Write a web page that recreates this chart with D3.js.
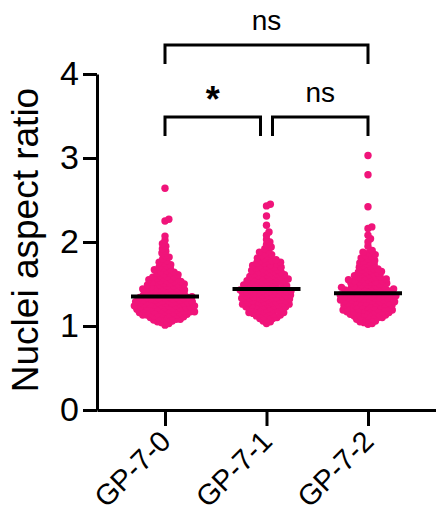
<!DOCTYPE html>
<html>
<head>
<meta charset="utf-8">
<script src="https://cdn.jsdelivr.net/npm/d3@7"></script>
<style>
  html, body { margin: 0; padding: 0; background: #fff; }
  svg { display: block; font-family: "Liberation Sans", Arial, sans-serif; }
</style>
</head>
<body>
<svg id="chart" width="436" height="529"></svg>
<script>
// Groups on the x axis
const categories = ["GP-7-0", "GP-7-1", "GP-7-2"];

// Nuclei aspect ratio measurements per group
const valuesGP70 = [
  1.01, 1.03, 1.04,
  1.05, 1.06, 1.06, 1.07, 1.08, 1.08, 1.09, 1.09,
  1.10, 1.10, 1.11, 1.11, 1.12, 1.12, 1.13, 1.13, 1.13, 1.14, 1.14, 1.14,
  1.15, 1.15, 1.16, 1.16, 1.16, 1.17, 1.17, 1.17, 1.18, 1.18, 1.18, 1.19, 1.19, 1.19,
  1.20, 1.20, 1.21, 1.21, 1.21, 1.22, 1.22, 1.22, 1.23, 1.23, 1.23, 1.24, 1.24, 1.24, 1.24,
  1.25, 1.25, 1.26, 1.26, 1.26, 1.27, 1.27, 1.27, 1.28, 1.28, 1.28, 1.29, 1.29, 1.29, 1.29,
  1.30, 1.30, 1.31, 1.31, 1.31, 1.32, 1.32, 1.33, 1.33, 1.33, 1.34, 1.34, 1.34, 1.34,
  1.35, 1.35, 1.36, 1.36, 1.36, 1.37, 1.37, 1.37, 1.38, 1.38, 1.39, 1.39, 1.39, 1.40,
  1.41, 1.41, 1.42, 1.42, 1.42, 1.43, 1.43, 1.44, 1.44, 1.44, 1.45, 1.45,
  1.46, 1.46, 1.47, 1.47, 1.48, 1.48, 1.49, 1.49, 1.50, 1.50,
  1.51, 1.51, 1.52, 1.52, 1.53, 1.53, 1.54, 1.54, 1.55,
  1.56, 1.56, 1.57, 1.57, 1.58, 1.59, 1.59, 1.60,
  1.61, 1.62, 1.63, 1.63, 1.64, 1.65,
  1.66, 1.67, 1.68, 1.69, 1.70,
  1.72, 1.73, 1.75, 1.76,
  1.78, 1.80, 1.82,
  1.84, 1.87, 1.89,
  1.92, 1.95, 1.98, 2.02, 2.07,
  2.25, 2.27, 2.64
];

const valuesGP71 = [
  1.03, 1.05, 1.06, 1.08, 1.09, 1.09,
  1.10, 1.11, 1.12, 1.12, 1.13, 1.14, 1.14,
  1.15, 1.15, 1.16, 1.16, 1.17, 1.18, 1.18, 1.19, 1.19,
  1.20, 1.20, 1.21, 1.21, 1.22, 1.22, 1.23, 1.23, 1.24, 1.24, 1.24,
  1.25, 1.25, 1.26, 1.26, 1.26, 1.27, 1.27, 1.28, 1.28, 1.29, 1.29, 1.29,
  1.30, 1.30, 1.31, 1.31, 1.31, 1.32, 1.32, 1.33, 1.33, 1.33, 1.34, 1.34, 1.34,
  1.35, 1.35, 1.36, 1.36, 1.36, 1.37, 1.37, 1.38, 1.38, 1.38, 1.39, 1.39, 1.39,
  1.40, 1.40, 1.41, 1.41, 1.41, 1.42, 1.42, 1.42, 1.43, 1.43, 1.43, 1.44, 1.44,
  1.45, 1.45, 1.46, 1.46, 1.47, 1.47, 1.48, 1.48, 1.48, 1.49, 1.49, 1.50,
  1.51, 1.51, 1.52, 1.52, 1.53, 1.53, 1.53, 1.54, 1.54, 1.55, 1.55,
  1.56, 1.56, 1.57, 1.57, 1.58, 1.58, 1.59, 1.59, 1.60, 1.60,
  1.61, 1.61, 1.62, 1.62, 1.63, 1.63, 1.64, 1.65, 1.65,
  1.66, 1.66, 1.67, 1.68, 1.68, 1.69, 1.70, 1.70,
  1.71, 1.72, 1.72, 1.73, 1.74, 1.75, 1.75,
  1.76, 1.77, 1.78, 1.78, 1.79, 1.80,
  1.81, 1.83, 1.84, 1.85,
  1.87, 1.88, 1.90,
  1.92, 1.94,
  1.97, 2.00, 2.03,
  2.08, 2.12,
  2.20, 2.31, 2.43, 2.45
];

const valuesGP72 = [
  1.02, 1.03, 1.04, 1.05, 1.06, 1.07, 1.08, 1.09, 1.09,
  1.10, 1.10, 1.11, 1.12, 1.12, 1.13, 1.13, 1.14, 1.14,
  1.15, 1.15, 1.16, 1.16, 1.17, 1.17, 1.17, 1.18, 1.18, 1.19, 1.19, 1.19,
  1.20, 1.20, 1.21, 1.21, 1.21, 1.22, 1.22, 1.23, 1.23, 1.24, 1.24, 1.24,
  1.25, 1.25, 1.26, 1.26, 1.26, 1.27, 1.27, 1.28, 1.28, 1.28, 1.29, 1.29, 1.29,
  1.30, 1.30, 1.31, 1.31, 1.31, 1.32, 1.32, 1.33, 1.33, 1.33, 1.34, 1.34, 1.34,
  1.35, 1.35, 1.35, 1.36, 1.36, 1.36, 1.37, 1.37, 1.37, 1.38, 1.38, 1.38, 1.39, 1.39,
  1.40, 1.40, 1.41, 1.41, 1.41, 1.42, 1.42, 1.43, 1.43, 1.43, 1.44, 1.44, 1.44,
  1.45, 1.45, 1.46, 1.46, 1.47, 1.47, 1.48, 1.48, 1.49, 1.49, 1.50,
  1.51, 1.51, 1.52, 1.52, 1.53, 1.53, 1.54, 1.54, 1.55, 1.55,
  1.56, 1.56, 1.57, 1.58, 1.58, 1.59, 1.59, 1.60,
  1.61, 1.62, 1.62, 1.63, 1.64, 1.64, 1.65,
  1.66, 1.67, 1.68, 1.68, 1.69, 1.70,
  1.71, 1.72, 1.73, 1.74, 1.75,
  1.76, 1.77, 1.78, 1.80,
  1.81, 1.83, 1.84, 1.85,
  1.87, 1.88, 1.90,
  1.95, 2.00, 2.04, 2.08, 2.16, 2.18,
  2.42, 2.80, 3.03
];

const groupValues = [valuesGP70, valuesGP71, valuesGP72];

// Y axis ticks and title
const yTicks = [0, 1, 2, 3, 4];
const yTitle = "Nuclei aspect ratio";

// Pairwise comparisons: [from group, to group, label, bracket level]
const comparisonsFrom  = ["GP-7-0", "GP-7-0", "GP-7-1"];
const comparisonsTo    = ["GP-7-1", "GP-7-2", "GP-7-2"];
const comparisonLabels = ["*", "ns", "ns"];
const comparisonLevels = [0, 1, 0];

const dotColor = "#F0147A";
const dotR = 3.7;

const svg = d3.select("#chart");

const x = d3.scalePoint().domain(categories).range([97, 436]).padding(0.67);
const y = d3.scaleLinear().domain([0, 4]).range([410, 74]);

// Deterministic beeswarm: place each point as close to the centre as possible
function swarm(values, cx, dist) {
  const pts = values.slice().sort(d3.ascending).map(v => ({ v, y: y(v), dx: 0 }));
  const placed = [];
  for (const p of pts) {
    const cand = [0];
    for (const q of placed) {
      const dy = Math.abs(q.y - p.y);
      if (dy < dist) {
        const h = Math.sqrt(dist * dist - dy * dy);
        cand.push(q.dx + h, q.dx - h);
      }
    }
    cand.sort((a, b) => Math.abs(a) - Math.abs(b));
    for (const c of cand) {
      let ok = true;
      for (const q of placed) {
        const ddx = q.dx - c, ddy = q.y - p.y;
        if (ddx * ddx + ddy * ddy < dist * dist - 1e-6) { ok = false; break; }
      }
      if (ok) { p.dx = c; break; }
    }
    placed.push(p);
  }
  return placed.map(p => ({ x: cx + p.dx, y: p.y, v: p.v }));
}

// Dots
const gDots = svg.append("g");
categories.forEach((cat, i) => {
  const pts = swarm(groupValues[i], x(cat), 4.2);
  gDots.selectAll(null)
    .data(pts)
    .join("circle")
    .attr("cx", d => d.x)
    .attr("cy", d => d.y)
    .attr("r", dotR)
    .attr("fill", dotColor);
});

// Median lines
const gMed = svg.append("g");
categories.forEach((cat, i) => {
  const m = d3.median(groupValues[i]);
  gMed.append("line")
    .attr("x1", x(cat) - 34).attr("x2", x(cat) + 34)
    .attr("y1", y(m)).attr("y2", y(m))
    .attr("stroke", "#000").attr("stroke-width", 4);
});

// Y axis
const yAxis = svg.append("g")
  .attr("transform", "translate(97,0)")
  .call(d3.axisLeft(y).tickValues(yTicks).tickFormat(d3.format("d")).tickSize(14).tickSizeOuter(0).tickPadding(4));
yAxis.select(".domain").attr("stroke", "#000").attr("stroke-width", 3);
yAxis.selectAll(".tick line").attr("stroke", "#000").attr("stroke-width", 3);
yAxis.selectAll(".tick text")
  .attr("font-size", 34).attr("fill", "#000")
  .attr("font-family", "Liberation Sans, Arial, sans-serif");

// X axis
const xAxis = svg.append("g")
  .attr("transform", "translate(0,410)")
  .call(d3.axisBottom(x).tickSize(16).tickSizeOuter(0).tickPadding(6));
xAxis.select(".domain").attr("stroke", "#000").attr("stroke-width", 3);
xAxis.selectAll(".tick line").attr("stroke", "#000").attr("stroke-width", 3);
xAxis.selectAll(".tick text")
  .attr("font-size", 29).attr("fill", "#000")
  .attr("font-family", "Liberation Sans, Arial, sans-serif")
  .attr("text-anchor", "end")
  .attr("dy", null)
  .attr("y", 0)
  .attr("transform", "translate(7,33) rotate(-45)");

// Y axis title
svg.append("text")
  .attr("transform", "translate(38,240) rotate(-90)")
  .attr("text-anchor", "middle")
  .attr("font-size", 37)
  .attr("fill", "#000")
  .text(yTitle);

// Significance brackets
const levelY = [117, 45];
const gBr = svg.append("g");
comparisonLabels.forEach((lab, i) => {
  const lvl = comparisonLevels[i];
  let x1 = x(comparisonsFrom[i]), x2 = x(comparisonsTo[i]);
  if (lvl === 0) {
    if (i === 0) x2 -= 6; else x1 += 6;
  }
  const by = levelY[lvl];
  gBr.append("path")
    .attr("d", `M${x1},${by + 19}V${by}H${x2}V${by + 19}`)
    .attr("fill", "none")
    .attr("stroke", "#000")
    .attr("stroke-width", 3);
  const t = gBr.append("text")
    .attr("x", (x1 + x2) / 2)
    .attr("text-anchor", "middle")
    .attr("fill", "#000")
    .text(lab);
  if (lab === "*") {
    t.attr("y", by - 5).attr("font-size", 36).attr("font-weight", "bold");
  } else {
    t.attr("y", by - 15).attr("font-size", 28);
  }
});
</script>
</body>
</html>
